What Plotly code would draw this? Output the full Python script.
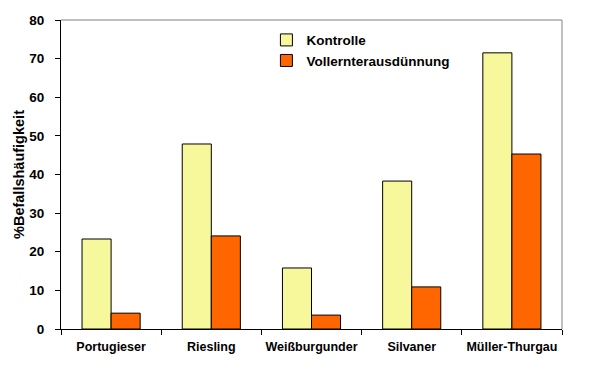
import plotly.graph_objects as go

categories = ["Portugieser", "Riesling", "Weißburgunder", "Silvaner", "Müller-Thurgau"]
kontrolle = [23.3, 47.9, 15.8, 38.3, 71.5]
vollernte = [4.1, 24.1, 3.6, 10.9, 45.3]
series_names = ["Kontrolle", "Vollernterausdünnung"]
y_ticks = [0, 10, 20, 30, 40, 50, 60, 70, 80]

FONT = "Liberation Sans, Arial, sans-serif"

fig = go.Figure()
fig.add_trace(go.Bar(x=categories, y=kontrolle, name=series_names[0],
                     marker=dict(color="#F7F79B", line=dict(color="black", width=1))))
fig.add_trace(go.Bar(x=categories, y=vollernte, name=series_names[1],
                     marker=dict(color="#FF6600", line=dict(color="black", width=1))))

# page body has an 8px default margin, so the figure is 8px smaller
fig.update_layout(
    width=590, height=363,
    margin=dict(l=53, r=36, t=12, b=42, autoexpand=False),
    paper_bgcolor="white", plot_bgcolor="white",
    barmode="group", bargap=0.42, bargroupgap=0,
    font=dict(family=FONT, size=12, color="black", weight="bold"),
    legend=dict(x=0.41, y=0.985, xanchor="left", yanchor="top",
                bgcolor="rgba(0,0,0,0)", font=dict(size=13.5, weight="bold"),
                itemwidth=30, tracegroupgap=2),
    showlegend=True,
)
fig.update_xaxes(type="category", tickson="boundaries", ticks="outside", ticklen=5,
                 tickcolor="black", showline=True, linecolor="black", linewidth=1,
                 showgrid=False, automargin=False, ticklabelstandoff=6, tickangle=0,
                 tickfont=dict(size=12.5, weight="bold"))
fig.update_yaxes(range=[0, 80], tickvals=y_ticks, ticks="outside", ticklen=5,
                 tickcolor="black", showline=True, linecolor="black", linewidth=1,
                 showgrid=False, zeroline=False, automargin=False, ticklabelstandoff=8,
                 tickfont=dict(size=13.5, weight="bold"),
                 title=dict(text="%Befallshäufigkeit", font=dict(size=14.5, weight="bold"), standoff=1))
fig.add_shape(type="line", xref="paper", yref="paper", x0=0, x1=1, y0=1, y1=1,
              line=dict(color="#808080", width=1))
fig.add_shape(type="line", xref="paper", yref="paper", x0=1, x1=1, y0=0, y1=1,
              line=dict(color="#808080", width=1))

fig.write_html("out.html")
